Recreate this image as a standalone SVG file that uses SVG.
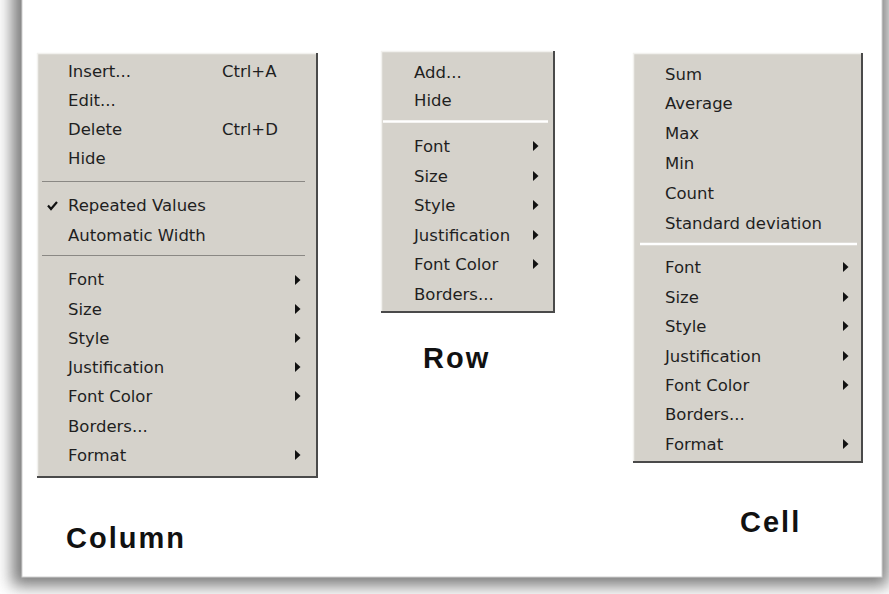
<svg xmlns="http://www.w3.org/2000/svg" width="889" height="594" viewBox="0 0 889 594">
<style>
.menu{fill:#d5d2cb}
.hi{stroke:#f2f1ee;stroke-width:1.5}
.sh{stroke:#4a4a4a;stroke-width:2}
.t{font-family:"DejaVu Sans",sans-serif;font-size:16.5px;fill:#1f1f1f}
.lbl{font-family:"Liberation Sans",Arial,sans-serif;font-weight:bold;font-size:29px;fill:#111;letter-spacing:2px}
.arr{fill:#111}
.sepd{stroke:#8a8884;stroke-width:1.2}
.sepw{stroke:#ffffff;stroke-width:2.5}
</style>
<defs>
<filter id="blur" x="-10%" y="-10%" width="120%" height="120%"><feGaussianBlur stdDeviation="8"/></filter>
<polygon id="tri" points="0,-5 5.5,0 0,5"/>
</defs>
<rect x="0" y="0" width="889" height="594" fill="#ffffff"/>
<rect x="12" y="-20" width="876" height="606" fill="#7a7a7a" filter="url(#blur)"/>
<rect x="22" y="-5" width="860" height="582" fill="#ffffff" stroke="#d0d0d0" stroke-width="1"/>

<g id="column-menu">
<rect class="menu" x="37" y="53" width="281" height="425"/>
<line class="hi" x1="37" y1="53.5" x2="317" y2="53.5"/>
<line class="hi" x1="37.5" y1="53" x2="37.5" y2="477"/>
<line class="sh" x1="317" y1="53" x2="317" y2="478"/>
<line class="sh" x1="37" y1="477" x2="318" y2="477"/>
<line class="sepd" x1="42" y1="181.5" x2="305" y2="181.5"/>
<line class="sepd" x1="42" y1="255.5" x2="305" y2="255.5"/>
<text class="t" x="68" y="77">Insert...</text>
<text class="t" x="222" y="77">Ctrl+A</text>
<text class="t" x="68" y="106">Edit...</text>
<text class="t" x="68" y="135">Delete</text>
<text class="t" x="222" y="135">Ctrl+D</text>
<text class="t" x="68" y="164">Hide</text>
<path d="M48,205.5 l3,3.5 l6,-7" fill="none" stroke="#111" stroke-width="2.2"/>
<text class="t" x="68" y="211">Repeated Values</text>
<text class="t" x="68" y="241">Automatic Width</text>
<text class="t" x="68" y="285">Font</text>
<text class="t" x="68" y="315">Size</text>
<text class="t" x="68" y="344">Style</text>
<text class="t" x="68" y="373">Justification</text>
<text class="t" x="68" y="402">Font Color</text>
<text class="t" x="68" y="432">Borders...</text>
<text class="t" x="68" y="461">Format</text>
<use href="#tri" class="arr" x="295" y="280"/>
<use href="#tri" class="arr" x="295" y="309"/>
<use href="#tri" class="arr" x="295" y="338"/>
<use href="#tri" class="arr" x="295" y="367"/>
<use href="#tri" class="arr" x="295" y="396"/>
<use href="#tri" class="arr" x="295" y="455"/>
<text class="lbl" x="66" y="548">Column</text>
</g>

<g id="row-menu">
<rect class="menu" x="381" y="51" width="174" height="262"/>
<line class="hi" x1="381" y1="51.5" x2="554" y2="51.5"/>
<line class="hi" x1="381.5" y1="51" x2="381.5" y2="312"/>
<line class="sh" x1="554" y1="51" x2="554" y2="313"/>
<line class="sh" x1="381" y1="312" x2="555" y2="312"/>
<line class="sepw" x1="383" y1="121.5" x2="548" y2="121.5"/>
<text class="t" x="414" y="78">Add...</text>
<text class="t" x="414" y="106">Hide</text>
<text class="t" x="414" y="152">Font</text>
<text class="t" x="414" y="182">Size</text>
<text class="t" x="414" y="211">Style</text>
<text class="t" x="414" y="241">Justification</text>
<text class="t" x="414" y="270">Font Color</text>
<text class="t" x="414" y="300">Borders...</text>
<use href="#tri" class="arr" x="533" y="146"/>
<use href="#tri" class="arr" x="533" y="176"/>
<use href="#tri" class="arr" x="533" y="205"/>
<use href="#tri" class="arr" x="533" y="235"/>
<use href="#tri" class="arr" x="533" y="264"/>
<text class="lbl" x="423" y="368">Row</text>
</g>

<g id="cell-menu">
<rect class="menu" x="633" y="53" width="230" height="410"/>
<line class="hi" x1="633" y1="53.5" x2="862" y2="53.5"/>
<line class="hi" x1="633.5" y1="53" x2="633.5" y2="462"/>
<line class="sh" x1="862" y1="53" x2="862" y2="463"/>
<line class="sh" x1="633" y1="462" x2="863" y2="462"/>
<line class="sepw" x1="640" y1="244" x2="857" y2="244"/>
<text class="t" x="665" y="80">Sum</text>
<text class="t" x="665" y="109">Average</text>
<text class="t" x="665" y="139">Max</text>
<text class="t" x="665" y="169">Min</text>
<text class="t" x="665" y="199">Count</text>
<text class="t" x="665" y="229">Standard deviation</text>
<text class="t" x="665" y="273">Font</text>
<text class="t" x="665" y="303">Size</text>
<text class="t" x="665" y="332">Style</text>
<text class="t" x="665" y="362">Justification</text>
<text class="t" x="665" y="391">Font Color</text>
<text class="t" x="665" y="420">Borders...</text>
<text class="t" x="665" y="450">Format</text>
<use href="#tri" class="arr" x="843" y="267"/>
<use href="#tri" class="arr" x="843" y="297"/>
<use href="#tri" class="arr" x="843" y="326"/>
<use href="#tri" class="arr" x="843" y="356"/>
<use href="#tri" class="arr" x="843" y="385"/>
<use href="#tri" class="arr" x="843" y="444"/>
<text class="lbl" x="740" y="532">Cell</text>
</g>
<g id="connectors"></g>
</svg>
